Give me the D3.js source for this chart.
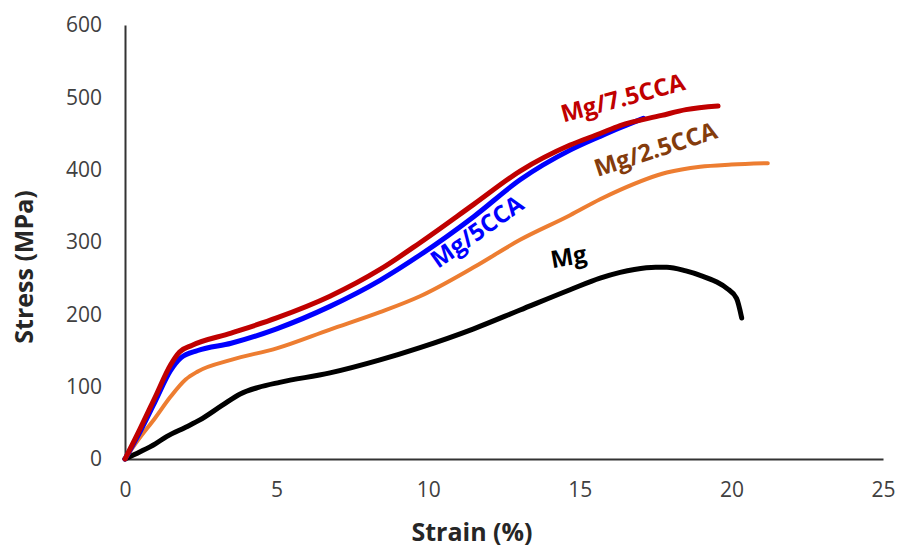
<!DOCTYPE html>
<html>
<head>
<meta charset="utf-8">
<script src="https://cdn.jsdelivr.net/npm/d3@7"></script>
<style>
  body { margin: 0; background: #fff; }
  svg { display: block; }
  .tick text { font-family: 'Open Sans', sans-serif; font-size: 21px; fill: #404040; }
</style>
</head>
<body>
<div id="vis"></div>
<script>
// tensile curves, strain (%) vs stress (MPa)
var mg = [[0,0],[0.5,10],[1,21],[1.37,31],[2,44],[2.47,54],[3.2,74],[3.8,90],[4.4,99],[5.1,106],[6.76,119],[8.41,137],[9.73,154],[11.5,180],[13.03,206],[14.68,234],[15.67,250],[16.33,258],[16.8,262],[17.5,265],[17.87,265],[18.5,260],[18.97,254],[19.5,245],[19.85,236],[20.17,222],[20.34,195]];
var mg25 = [[0,0],[0.43,26],[1,57],[1.5,86],[2.0,110],[2.4,121],[3.5,137],[5,153],[6.76,179],[8.41,203],[9.73,225],[11.5,265],[13.03,303],[14.68,337],[15.67,359],[16.33,372],[17.87,396],[18.97,404],[20,407],[21.2,409]];
var mg5 = [[0,0],[0.5,38],[1,80],[1.5,122],[1.85,140],[2.4,150],[3.5,160],[5,180],[6.76,211],[8.41,247],[9.73,282],[11.5,335],[13.03,386],[14.68,427],[15.67,446],[16.33,458],[17.1,471]];
var mg75 = [[0,0],[0.5,42],[1,86],[1.5,130],[1.8,148],[2.2,157],[3.5,174],[5,195],[6.76,225],[8.41,262],[9.73,299],[11.5,352],[13.03,398],[14.68,434],[15.67,450],[16.33,461],[17.7,475],[18.5,483],[19.56,488]];

var seriesNames = ["Mg", "Mg/2.5CCA", "Mg/5CCA", "Mg/7.5CCA"];
var seriesData = [mg, mg25, mg5, mg75];
var lineColors = ["#000000", "#ED7D31", "#0000FF", "#C00000"];
var labelColors = ["#000000", "#843C0C", "#0000FF", "#C00000"];

// label anchors in data units, with rotation
var labelAt = [[14.68, 268, -10], [17.58, 417, -18], [11.77, 305, -35], [16.49, 488, -15]];

var xTicks = [0, 5, 10, 15, 20, 25];
var yTicks = [0, 100, 200, 300, 400, 500, 600];

var width = 899, height = 547;
var margin = { top: 25, right: 16, bottom: 88, left: 125 };

var svg = d3.select('#vis').append('svg')
  .attr('width', width)
  .attr('height', height);

var x = d3.scaleLinear().domain([0, 25]).range([margin.left, width - margin.right]);
var y = d3.scaleLinear().domain([0, 600]).range([height - margin.bottom, margin.top]);

var xAxis = svg.append('g')
  .attr('transform', 'translate(0,' + y(0) + ')')
  .call(d3.axisBottom(x).tickValues(xTicks).tickSize(0).tickPadding(23));
xAxis.select('.domain').attr('stroke', '#333').attr('stroke-width', 2);

var yAxis = svg.append('g')
  .attr('transform', 'translate(' + x(0) + ',0)')
  .call(d3.axisLeft(y).tickValues(yTicks).tickSize(0).tickPadding(23));
yAxis.select('.domain').attr('stroke', '#333').attr('stroke-width', 2);

var line = d3.line()
  .x(function (d) { return x(d[0]); })
  .y(function (d) { return y(d[1]); })
  .curve(d3.curveMonotoneX);

svg.selectAll('.curve')
  .data(seriesData)
  .enter().append('path')
  .attr('class', 'curve')
  .attr('fill', 'none')
  .attr('stroke', function (d, i) { return lineColors[i]; })
  .attr('stroke-width', function (d, i) { return i == 1 ? 4 : 5; })
  .attr('stroke-linecap', 'round')
  .attr('stroke-linejoin', 'round')
  .attr('d', line);

svg.selectAll('.lbl')
  .data(seriesNames)
  .enter().append('text')
  .attr('class', 'lbl')
  .attr('transform', function (d, i) {
    var p = labelAt[i];
    return 'translate(' + x(p[0]) + ',' + y(p[1]) + ') rotate(' + p[2] + ')';
  })
  .attr('text-anchor', 'middle')
  .style('font-family', "'Open Sans', sans-serif")
  .style('font-weight', 'bold')
  .style('font-size', '24px')
  .attr('fill', function (d, i) { return labelColors[i]; })
  .text(function (d) { return d; });

// axis titles
svg.append('text')
  .attr('x', 472)
  .attr('y', 541)
  .attr('text-anchor', 'middle')
  .style('font-family', "'Open Sans', sans-serif")
  .style('font-weight', 'bold')
  .style('font-size', '25px')
  .attr('fill', '#262626')
  .text('Strain (%)');

svg.append('text')
  .attr('transform', 'translate(33,267) rotate(-90)')
  .attr('text-anchor', 'middle')
  .style('font-family', "'Open Sans', sans-serif")
  .style('font-weight', 'bold')
  .style('font-size', '25px')
  .attr('fill', '#262626')
  .text('Stress (MPa)');
</script>
</body>
</html>
